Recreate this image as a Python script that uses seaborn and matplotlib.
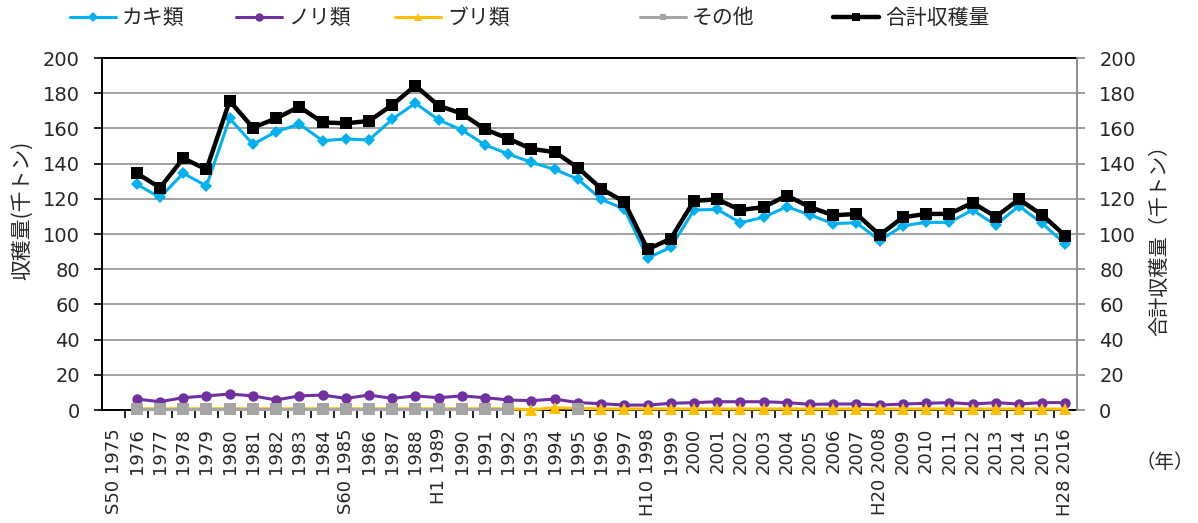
import numpy as np
import pandas as pd
import matplotlib
matplotlib.use("Agg")
import matplotlib.pyplot as plt
from matplotlib.lines import Line2D
from matplotlib.ticker import MultipleLocator, FixedLocator
import seaborn as sns

# Category axis: 1975 .. 2016 (no values for 1975)
years = list(range(1975, 2017))
era_labels = {1975: "S50 1975", 1985: "S60 1985", 1989: "H1 1989",
              1998: "H10 1998", 2008: "H20 2008", 2016: "H28 2016"}
tick_labels = [era_labels.get(y, str(y)) for y in years]

# Harvest (thousand tonnes), 1976 .. 2016
kaki = [128.2, 120.8, 134.5, 127.3, 165.7, 151.0, 158.1, 162.5, 153.0, 154.0,
        153.4, 165.2, 174.3, 164.8, 159.1, 150.6, 145.5, 140.7, 136.7, 131.2,
        119.7, 114.2, 86.4, 92.4, 113.6, 114.0, 106.4, 109.5, 115.5, 110.8,
        105.9, 106.4, 96.3, 104.7, 106.6, 106.6, 113.6, 105.1, 115.9, 106.0,
        94.3]
nori = [6.2, 4.7, 7.0, 8.0, 9.1, 8.0, 5.7, 8.0, 8.5, 6.6,
        8.5, 6.6, 8.0, 7.0, 8.0, 7.0, 5.7, 5.3, 6.2, 4.2,
        3.6, 2.8, 2.8, 3.8, 4.2, 4.7, 4.7, 4.7, 4.2, 3.2,
        3.4, 3.4, 2.8, 3.4, 3.8, 4.2, 3.4, 4.2, 3.4, 4.2,
        4.2]
buri = [0.7, 0.7, 0.7, 0.7, 0.7, 0.7, 0.7, 0.7, 0.7, 0.7,
        0.7, 0.7, 0.7, 0.7, 0.7, 0.7, 0.7, 0.2, 1.2, 1.0,
        0.6, 0.6, 0.6, 0.6, 0.6, 0.6, 0.6, 0.6, 0.6, 0.6,
        0.6, 0.6, 0.6, 0.6, 0.6, 0.6, 0.6, 0.6, 0.6, 0.6,
        0.5]
other = [0.3, 0.3, 0.3, 0.3, 0.3, 0.3, 0.3, 0.3, 0.3, 0.3,
         0.3, 0.3, 0.3, 0.3, 0.3, 0.3, 0.3, None, None, 0.5] + [None] * 21
total = [134.5, 126.3, 143.0, 136.7, 175.6, 160.4, 165.7, 172.3, 163.4, 162.9,
         164.2, 173.3, 184.3, 172.9, 168.4, 159.5, 154.2, 148.3, 146.6, 137.7,
         125.8, 118.2, 91.3, 97.3, 118.8, 119.7, 113.6, 115.3, 121.8, 115.3,
         110.6, 111.4, 99.4, 109.5, 111.4, 111.4, 117.8, 109.8, 119.7, 110.8,
         98.9]

names = ["カキ類", "ノリ類", "ブリ類", "その他", "合計収穫量"]
colors = ["#00B0F0", "#7030A0", "#FFC000", "#A5A5A5", "#000000"]

sns.set_theme(style="white")
plt.rcParams["font.family"] = ["DejaVu Sans", "Noto Sans CJK JP"]

W, H = 1198, 523
fig = plt.figure(figsize=(W / 100, H / 100), dpi=100)
ax = fig.add_axes([102 / W, 113 / H, 975 / W, 352 / H])
ax2 = ax.twinx()

xpos = np.arange(1, len(years))  # data positions for 1976..2016
df = pd.DataFrame({"x": xpos, "kaki": kaki, "nori": nori, "buri": buri,
                   "other": [np.nan if v is None else v for v in other],
                   "total": total})
# split その他 into its connected runs so gaps stay open
df["run"] = df["other"].isna().cumsum()

common = dict(markeredgewidth=0, clip_on=False, zorder=4, ax=ax)
sns.lineplot(data=df, x="x", y="kaki", color=colors[0], marker="D",
             markersize=6.5, linewidth=2.2, **common)
sns.lineplot(data=df, x="x", y="nori", color=colors[1], marker="o",
             markersize=7.5, linewidth=2.2, **common)
sns.lineplot(data=df, x="x", y="buri", color=colors[2], marker="^",
             markersize=8, linewidth=2.2, **common)
sns.lineplot(data=df.dropna(subset=["other"]), x="x", y="other", units="run",
             estimator=None, color=colors[3], marker="s", markersize=8,
             linewidth=2.2, **common)
sns.lineplot(data=df, x="x", y="total", color=colors[4], marker="s",
             markersize=8.5, linewidth=3.2, markeredgewidth=0, clip_on=False,
             zorder=4, ax=ax2)

for a in (ax, ax2):
    a.set_ylim(0, 200)
    a.set_xlim(-0.5, len(years) - 0.5)
    a.set_xlabel("")
    a.set_ylabel("")
    a.yaxis.set_major_locator(MultipleLocator(20))

# gridlines
ax.grid(False)
ax2.grid(False)
for v in range(20, 200, 20):
    ax.axhline(v, color="#9A9A9A", linewidth=1.3, zorder=0)

# x axis: labels at category centres, ticks at category boundaries
ax.set_xticks(np.arange(len(years)))
ax.set_xticklabels(tick_labels, rotation=90, fontsize=13)
ax.tick_params(axis="x", which="major", bottom=True, length=0, pad=13)
ax.xaxis.set_minor_locator(FixedLocator(np.arange(0.5, len(years) - 0.5, 1)))
ax.tick_params(axis="x", which="minor", bottom=True, length=6, width=1.2,
               color="black", direction="out")
for lbl in ax.get_xticklabels():
    lbl.set_verticalalignment("top")
    lbl.set_horizontalalignment("center")

ax.tick_params(axis="y", which="major", left=True, length=6, width=1.2,
               color="black", direction="out", labelsize=14, pad=10)
ax2.tick_params(axis="y", which="major", right=True, length=6, width=1.2,
                color="#8C8C8C", direction="out", labelsize=14, pad=10)
ax2.tick_params(axis="x", which="both", bottom=False, top=False,
                labelbottom=False, labeltop=False)

for s in ("left", "bottom", "top"):
    ax.spines[s].set_color("black")
    ax.spines[s].set_linewidth(1.4)
ax.spines["right"].set_visible(False)
for s in ("left", "bottom", "top"):
    ax2.spines[s].set_visible(False)
ax2.spines["right"].set_color("#8C8C8C")
ax2.spines["right"].set_linewidth(1.4)

jp = ["Noto Sans CJK JP", "DejaVu Sans"]
fig.text(22 / W, 1 - 210 / H, "収穫量(千トン)", rotation=90, fontsize=15,
         ha="center", va="center", family=jp)
fig.text(1160 / W, 1 - 235 / H, "合計収穫量（千トン）", rotation=90, fontsize=14.5,
         ha="center", va="center", family=jp)
fig.text(1165 / W, 1 - 463 / H, "（年）", fontsize=14, ha="center",
         va="center", family=jp)

# legend entries placed along the top
legend_x = [70, 236, 395, 640, 833]
handles = [
    Line2D([], [], color=colors[0], marker="D", markersize=5, linewidth=2.2, markeredgewidth=0),
    Line2D([], [], color=colors[1], marker="o", markersize=6, linewidth=2.2, markeredgewidth=0),
    Line2D([], [], color=colors[2], marker="^", markersize=6, linewidth=2.2, markeredgewidth=0),
    Line2D([], [], color=colors[3], marker="s", markersize=5, linewidth=2.2, markeredgewidth=0),
    Line2D([], [], color=colors[4], marker="s", markersize=6, linewidth=3.2, markeredgewidth=0),
]
for h, name, x0 in zip(handles, names, legend_x):
    fig.legend([h], [name], loc="center left", bbox_to_anchor=(x0 / W, 1 - 18 / H),
               frameon=False, borderpad=0, borderaxespad=0, handlelength=2.2,
               handletextpad=0.3, prop={"family": jp, "size": 15})

fig.savefig("out.png", dpi=100)
